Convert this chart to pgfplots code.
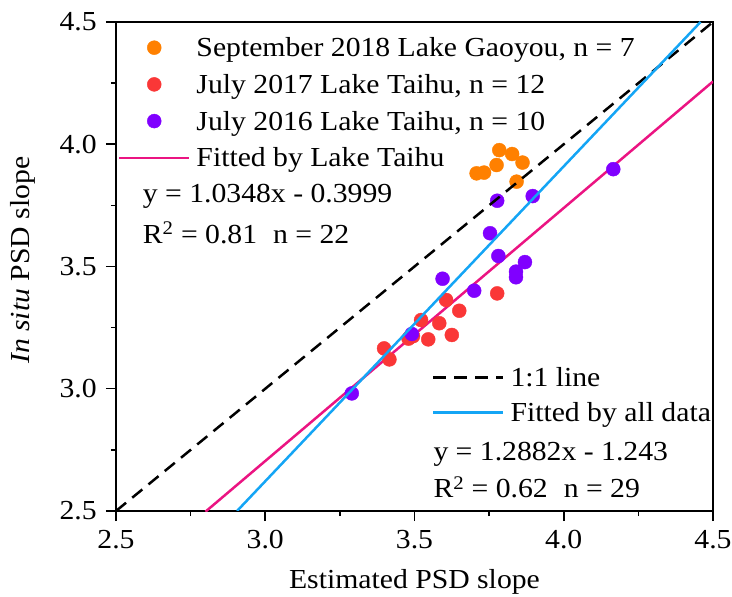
\documentclass[border=0pt]{standalone}
\usepackage{fontspec}
\setmainfont{Liberation Serif}[FakeStretch=1.08]
\usepackage{pgfplots}
\pgfplotsset{compat=1.18}
\definecolor{cOrange}{RGB}{255,128,0}
\definecolor{cRed}{RGB}{250,55,55}
\definecolor{cPurple}{RGB}{128,0,255}
\definecolor{cMagenta}{RGB}{235,20,130}
\definecolor{cBlue}{RGB}{20,165,245}
\pgfplotsset{
 lineleg/.style={legend image code/.code={\draw[##1] (0bp,9bp) -- (70bp,9bp);}},
 markleg/.style={legend image code/.code={\draw[##1] plot coordinates {(35bp,9bp)};}},
 common/.style={scale only axis, width=597bp, height=489bp,
   xmin=2.5, xmax=4.5, ymin=2.5, ymax=4.5},
}
\begin{document}
\fontsize{27.5bp}{33bp}\selectfont
\begin{tikzpicture}
\begin{axis}[common, name=main,
 xtick={2.5,3.0,3.5,4.0,4.5}, ytick={2.5,3.0,3.5,4.0,4.5},
 minor tick num=1,
 tick align=outside, xtick pos=left, ytick pos=left,
 major tick length=10bp, minor tick length=5bp,
 every tick/.append style={black, line width=1.5bp},
 axis line style={line width=2bp},
 /pgf/number format/.cd, fixed, fixed zerofill, precision=1, assume math mode=true, /pgfplots/.cd,
 every axis x label/.style={at={(axis description cs:0.5,-0.1595)}, anchor=base},
 every axis y label/.style={at={(axis description cs:-0.1558,0.513)}, rotate=90, anchor=center},
 xlabel={Estimated PSD slope},
 ylabel={\textit{In situ} PSD slope},
 legend style={draw=none, fill=none, at={(axis description cs:0,1)}, anchor=north west,
   xshift=2bp, yshift=-15.7bp, inner sep=0pt, outer sep=0pt, row sep=17.7bp, column sep=6bp,
   nodes={text height=19bp, text depth=0bp, inner sep=0pt}, cells={anchor=base west}},
]
\addplot[markleg, only marks, mark=*, mark size=7bp, color=cOrange] coordinates {
 (3.708,3.881) (3.733,3.884) (3.775,3.915) (3.784,3.976) (3.827,3.960) (3.862,3.925) (3.842,3.847)};
\addlegendentry{September 2018 Lake Gaoyou, n = 7}
\addplot[markleg, only marks, mark=*, mark size=7bp, color=cRed] coordinates {
 (3.398,3.165) (3.416,3.120) (3.480,3.205) (3.485,3.213) (3.522,3.281) (3.546,3.202)
 (3.583,3.268) (3.606,3.363) (3.625,3.220) (3.650,3.319) (3.777,3.390) (3.495,3.215)};
\addlegendentry{July 2017 Lake Taihu, n = 12}
\addplot[markleg, only marks, mark=*, mark size=7bp, color=cPurple] coordinates {
 (3.290,2.981) (3.491,3.224) (3.594,3.450) (3.700,3.401) (3.753,3.636) (3.777,3.769)
 (3.781,3.543) (3.840,3.479) (3.840,3.456) (3.870,3.518) (3.896,3.788) (4.166,3.898)};
\addlegendentry{July 2016 Lake Taihu, n = 10}
\addplot[lineleg, cMagenta, line width=2.5bp] coordinates {(2.80,2.4975) (4.50,4.2567)};
\addlegendentry{Fitted by Lake Taihu}
\node[anchor=base west, inner sep=0pt] at (rel axis cs:0.0447,0.630) {y = 1.0348x - 0.3999};
\node[anchor=base west, inner sep=0pt] at (rel axis cs:0.0447,0.548) {R\textsuperscript{2} = 0.81\hspace{16bp}n = 22};
\node[anchor=base west, inner sep=0pt] at (rel axis cs:0.5315,0.104) {y = 1.2882x - 1.243};
\node[anchor=base west, inner sep=0pt] at (rel axis cs:0.5315,0.0266) {R\textsuperscript{2} = 0.62\hspace{16bp}n = 29};
\end{axis}
\begin{axis}[common, hide axis,
 legend style={draw=none, fill=none, at={(axis description cs:0,0)}, anchor=north west,
   xshift=316bp, yshift=143.3bp, inner sep=0pt, outer sep=0pt, row sep=16bp, column sep=6bp,
   nodes={text height=19bp, text depth=0bp, inner sep=0pt}, cells={anchor=base west}},
]
\addplot[lineleg, black, line width=2.5bp, dash pattern=on 13bp off 8bp] coordinates {(2.5,2.5) (4.5,4.5)};
\addlegendentry{1:1 line}
\addplot[lineleg, cBlue, line width=2.5bp] coordinates {(2.9055,2.5) (4.4583,4.5)};
\addlegendentry{Fitted by all data}
\end{axis}
\pgfresetboundingbox
\path[use as bounding box] ([shift={(-116bp,-86bp)}]main.south west) rectangle ([shift={(19bp,22bp)}]main.north east);
\end{tikzpicture}
\end{document}
